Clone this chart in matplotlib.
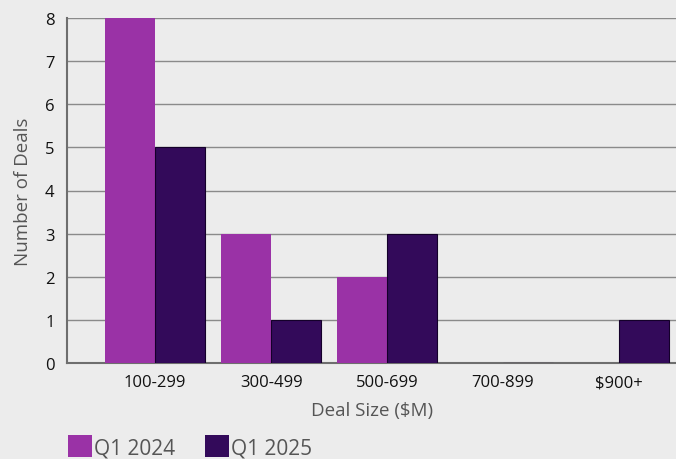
import matplotlib
matplotlib.use("Agg")
import matplotlib.pyplot as plt
import numpy as np
from matplotlib.patches import Patch

categories = ["100-299", "300-499", "500-699", "700-899", "$900+"]
q1_2024 = [8, 3, 2, 0, 0]
q1_2025 = [5, 1, 3, 0, 1]
series_names = ["Q1 2024", "Q1 2025"]

bg = "#ececec"
c2024 = "#9a32a6"
c2025 = "#330a5a"

plt.rcParams["font.family"] = ["Open Sans", "DejaVu Sans"]

fig = plt.figure(figsize=(6.76, 4.60), dpi=100, facecolor=bg)
ax = fig.add_axes([67/676, 1 - 364/460, 610/676, 345/460], facecolor=bg)

x = np.arange(len(categories))
w = 0.43
ax.bar(x - w/2, q1_2024, width=w, color=c2024, zorder=3)
ax.bar(x + w/2, q1_2025, width=w, color=c2025, edgecolor="#14002a",
       linewidth=0.8, zorder=3)

ax.set_xlim(-0.76, 4.5)
ax.set_ylim(0, 8)
ax.set_yticks(range(0, 9))
ax.yaxis.grid(True, color="#8a8a8a", linewidth=1.0, zorder=0)
ax.set_axisbelow(True)
ax.set_xticks(x)
ax.set_xticklabels(categories)
ax.tick_params(axis="both", length=0, labelsize=12, colors="#111111")
ax.tick_params(axis="x", pad=8)
ax.tick_params(axis="y", pad=9)

for s in ["top", "right"]:
    ax.spines[s].set_visible(False)
ax.spines["left"].set_color("#6e6e6e")
ax.spines["left"].set_linewidth(1.5)
ax.spines["bottom"].set_color("#6e6e6e")
ax.spines["bottom"].set_linewidth(1.5)

ax.set_ylabel("Number of Deals", fontsize=13.5, color="#555555", labelpad=9)
ax.set_xlabel("Deal Size ($M)", fontsize=13.5, color="#555555", labelpad=8)

handles = [Patch(facecolor=c2024), Patch(facecolor=c2025)]
fig.legend(handles, series_names, loc="lower left", bbox_to_anchor=(60/676, -0.016),
           ncol=2, frameon=False, fontsize=15, labelcolor="#555555",
           handlelength=1.15, handleheight=1.2, handletextpad=0.1,
           columnspacing=1.4, borderaxespad=0)

fig.savefig("out.png", dpi=100, facecolor=bg)
